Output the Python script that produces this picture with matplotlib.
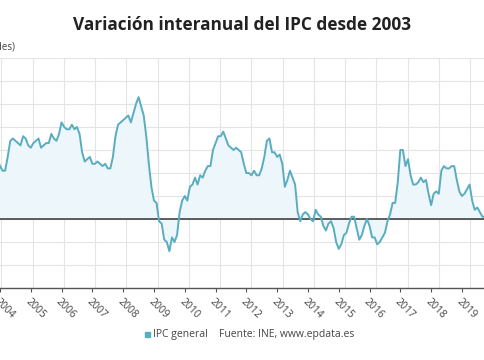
from __future__ import annotations

import matplotlib.pyplot as plt

# Tasa de variación anual del IPC general, mensual desde enero 2003
ipc_general = [
  3.7, 3.8, 3.7, 3.1, 2.7, 2.8, 2.8, 3.0, 2.9, 2.6, 2.8, 2.6,  # 2003
  2.3, 2.1, 2.1, 2.7, 3.4, 3.5, 3.4, 3.3, 3.2, 3.6, 3.5, 3.2,  # 2004
  3.1, 3.3, 3.4, 3.5, 3.1, 3.2, 3.3, 3.3, 3.7, 3.5, 3.4, 3.7,  # 2005
  4.2, 4.0, 3.9, 3.9, 4.1, 3.9, 4.0, 3.7, 2.9, 2.5, 2.6, 2.7,  # 2006
  2.4, 2.4, 2.5, 2.4, 2.3, 2.4, 2.2, 2.2, 2.7, 3.6, 4.1, 4.2,  # 2007
  4.3, 4.4, 4.5, 4.2, 4.6, 5.0, 5.3, 4.9, 4.5, 3.6, 2.4, 1.4,  # 2008
  0.8, 0.7, -0.1, -0.2, -0.9, -1.0, -1.4, -0.8, -1.0, -0.7, 0.3, 0.8,  # 2009
  1.0, 0.8, 1.4, 1.5, 1.8, 1.5, 1.9, 1.8, 2.1, 2.3, 2.3, 3.0,  # 2010
  3.3, 3.6, 3.6, 3.8, 3.5, 3.2, 3.1, 3.0, 3.1, 3.0, 2.9, 2.4,  # 2011
  2.0, 2.0, 1.9, 2.1, 1.9, 1.9, 2.2, 2.7, 3.4, 3.5, 2.9, 2.9,  # 2012
  2.7, 2.8, 2.4, 1.4, 1.7, 2.1, 1.8, 1.5, 0.3, -0.1, 0.2, 0.3,  # 2013
  0.2, 0.0, -0.1, 0.4, 0.2, 0.1, -0.3, -0.5, -0.2, -0.1, -0.4, -1.0,  # 2014
  -1.3, -1.1, -0.7, -0.6, -0.2, 0.1, 0.1, -0.4, -0.9, -0.7, -0.3, 0.0,  # 2015
  -0.3, -0.8, -0.8, -1.1, -1.0, -0.8, -0.6, -0.1, 0.2, 0.7, 0.7, 1.6,  # 2016
  3.0, 3.0, 2.3, 2.6, 1.9, 1.5, 1.5, 1.6, 1.8, 1.6, 1.7, 1.1,  # 2017
  0.6, 1.1, 1.2, 1.1, 2.1, 2.3, 2.2, 2.2, 2.3, 2.3, 1.7, 1.2,  # 2018
  1.0, 1.1, 1.3, 1.5, 0.8, 0.4, 0.5, 0.3, 0.1, 0.1,  # 2019
]

years = list(range(2004, 2020))
year_labels = [str(y) for y in years]

LINE_COLOR = "#59adc0"
FILL_COLOR = "#edf6fa"
TEXT_COLOR = "#444444"

W, H = 485, 360
X_MIN, X_MAX = 12.3, 201.0


def px_to_month(px: float) -> float:
  return X_MIN + px * (X_MAX - X_MIN) / W


def main() -> None:
  plt.rcParams["font.family"] = ["Open Sans", "DejaVu Sans"]

  fig = plt.figure(figsize=(W / 100, H / 100), dpi=100)
  ax = fig.add_axes([0.0, 0.2, 1.0, 0.6389])

  x = list(range(len(ipc_general)))
  ax.fill_between(x, ipc_general, 0, color=FILL_COLOR, linewidth=0, zorder=1)
  ax.plot(x, ipc_general, color=LINE_COLOR, linewidth=1.4, zorder=3)
  ax.axhline(0, color="#333333", linewidth=1.1, zorder=2)

  ax.set_xlim(X_MIN, X_MAX)
  ax.set_ylim(-3, 7)

  # ticks en enero de cada año
  ax.set_xticks([12 * (y - 2003) for y in years])
  ax.set_xticklabels(year_labels, rotation=-45, ha="left", va="top",
                     rotation_mode="anchor", fontsize=7.5, color=TEXT_COLOR)
  ax.tick_params(axis="x", length=3, width=0.8, color="#555555", pad=3)
  ax.set_yticks(range(-3, 8))
  ax.tick_params(axis="y", left=False, labelleft=False)

  # rejilla vertical: algo desplazada respecto a los ticks en el original
  for k in range(len(years) + 1):
    ax.axvline(px_to_month(0.5 + 31.3 * k), color="#e4e4e4", linewidth=0.8,
               zorder=0)
  ax.grid(True, axis="y", color="#e4e4e4", linewidth=0.8, zorder=0)
  ax.set_axisbelow(True)
  for side in ("top", "left", "right"):
    ax.spines[side].set_visible(False)
  ax.spines["bottom"].set_color("#555555")
  ax.spines["bottom"].set_linestyle((0, (1, 1)))
  ax.spines["bottom"].set_linewidth(1.0)

  fig.text(0.5, 1 - 25 / H, "Variación interanual del IPC desde 2003",
           ha="center", va="center", fontsize=12.4, fontweight="bold",
           color="#222222")
  fig.text(16 / W, 1 - 47 / H, "(unidades)", ha="right", va="center",
           fontsize=7, color=TEXT_COLOR)

  # leyenda inferior
  fig.patches.append(plt.Rectangle((145 / W, 1 - 337 / H), 5 / W, 5 / H,
                                   transform=fig.transFigure, color=LINE_COLOR))
  fig.text(153 / W, 1 - 334 / H, "IPC general", ha="left", va="center",
           fontsize=7.5, color=TEXT_COLOR)
  fig.text(219 / W, 1 - 334 / H, "Fuente: INE, www.epdata.es", ha="left",
           va="center", fontsize=7.5, color=TEXT_COLOR)

  fig.savefig("out.png", dpi=100)
  plt.close(fig)


if __name__ == "__main__":
  main()
